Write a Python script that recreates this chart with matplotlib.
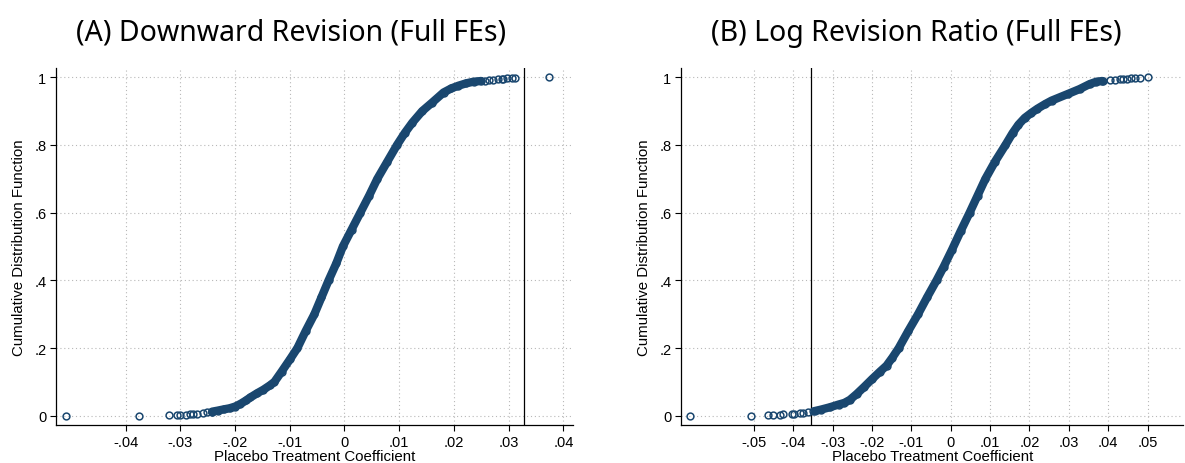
import matplotlib.pyplot as plt

# (A) Downward Revision: sparse placebo coefficients (tails) and their CDF
ring_a_x = [-0.0508, -0.0375, -0.0321, -0.0306, -0.0300, -0.0290, -0.0283, -0.0276,
            -0.0270, -0.0259, -0.0251, -0.0242,
            0.0257, 0.0264, 0.0272, 0.0280, 0.0287, 0.0290, 0.0297, 0.0306, 0.0312, 0.03745]
ring_a_y = [0.000, 0.000, 0.001, 0.002, 0.002, 0.003, 0.004, 0.005,
            0.006, 0.008, 0.010, 0.012,
            0.990, 0.991, 0.993, 0.994, 0.995, 0.996, 0.997, 0.998, 0.999, 1.000]
# dense part of the distribution
band_a_x = [-0.0242, -0.0232, -0.0220, -0.0210, -0.0200, -0.0190, -0.0180, -0.0172,
            -0.0160, -0.0148, -0.0136, -0.0128, -0.0115, -0.0099, -0.0086, -0.0071,
            -0.0055, -0.0042, -0.0029, -0.0015, -0.0003, 0.0013, 0.0029, 0.0045,
            0.0060, 0.0078, 0.0096, 0.0110, 0.0124, 0.0142, 0.0160, 0.0181,
            0.0195, 0.0208, 0.0222, 0.0236, 0.0250]
band_a_y = [0.012, 0.015, 0.019, 0.022, 0.027, 0.035, 0.045, 0.054,
            0.066, 0.077, 0.090, 0.100, 0.130, 0.168, 0.200, 0.250,
            0.300, 0.350, 0.400, 0.450, 0.500, 0.550, 0.600, 0.650,
            0.700, 0.750, 0.800, 0.835, 0.866, 0.900, 0.925, 0.955,
            0.967, 0.975, 0.982, 0.987, 0.989]
actual_a = 0.0328

# (B) Log Revision Ratio
ring_b_x = [-0.0662, -0.0508, -0.0464, -0.0452, -0.0434, -0.0426, -0.0404, -0.0398,
            -0.0383, -0.0374, -0.0362, -0.0349,
            0.0387, 0.0404, 0.0416, 0.0429, 0.0437, 0.0447, 0.0459, 0.0467, 0.0480, 0.0501]
ring_b_y = [0.000, 0.000, 0.001, 0.002, 0.003, 0.004, 0.005, 0.006,
            0.008, 0.009, 0.011, 0.013,
            0.989, 0.991, 0.992, 0.994, 0.995, 0.996, 0.997, 0.998, 0.999, 1.000]
band_b_x = [-0.0345, -0.0330, -0.0307, -0.0285, -0.0270, -0.0256, -0.0239, -0.0220,
            -0.0200, -0.0180, -0.0163, -0.0148, -0.0132, -0.0108, -0.0083, -0.0060,
            -0.0036, -0.0018, 0.0003, 0.0025, 0.0048, 0.0068, 0.0088, 0.0112,
            0.0139, 0.0157, 0.0172, 0.0188, 0.0205, 0.0220, 0.0240, 0.0256,
            0.0298, 0.0327, 0.0353, 0.0370, 0.0385]
band_b_y = [0.014, 0.018, 0.025, 0.033, 0.038, 0.047, 0.064, 0.085,
            0.108, 0.130, 0.148, 0.172, 0.200, 0.250, 0.300, 0.350,
            0.400, 0.440, 0.490, 0.545, 0.600, 0.650, 0.700, 0.750,
            0.800, 0.835, 0.860, 0.880, 0.895, 0.907, 0.921, 0.931,
            0.951, 0.965, 0.980, 0.987, 0.989]
actual_b = -0.0356

ticks_a = [-0.04, -0.03, -0.02, -0.01, 0, 0.01, 0.02, 0.03, 0.04]
ticks_b = [-0.05, -0.04, -0.03, -0.02, -0.01, 0, 0.01, 0.02, 0.03, 0.04, 0.05]
yticks = [0, 0.2, 0.4, 0.6, 0.8, 1]
ylabels = ["0", ".2", ".4", ".6", ".8", "1"]

navy = "#1a476f"
plt.rcParams["font.family"] = ["Liberation Sans", "DejaVu Sans"]

fig = plt.figure(figsize=(11.85, 4.64), dpi=100)
ax1 = fig.add_axes([0.0473, 0.0819, 0.4360, 0.7694])
ax2 = fig.add_axes([0.5747, 0.0819, 0.4240, 0.7694])


def stata_label(v):
    s = "%g" % round(v, 3)
    return s.replace("0.", ".")


panels = [
    (ax1, ring_a_x, ring_a_y, band_a_x, band_a_y, actual_a, ticks_a, (-0.0527, 0.0417)),
    (ax2, ring_b_x, ring_b_y, band_b_x, band_b_y, actual_b, ticks_b, (-0.0685, 0.0591)),
]
for ax, rx, ry, bx, by, actual, xt, xl in panels:
    ax.plot(bx, by, color=navy, lw=6.0, solid_capstyle="round", solid_joinstyle="round", zorder=3)
    ax.plot(bx + rx, by + ry, ls="none", marker="o", ms=4.9, mfc="none", mec=navy, mew=1.1, zorder=4)
    ax.axvline(actual, color="black", lw=0.9, zorder=2)
    ax.set_xlim(*xl)
    ax.set_ylim(-0.0274, 1.0274)
    ax.set_xticks(xt)
    ax.set_xticklabels([stata_label(v) for v in xt])
    ax.set_yticks(yticks)
    ax.set_yticklabels(ylabels)
    ax.grid(True, color="#b8b8b8", lw=0.8, ls=(0, (1, 2.5)))
    ax.set_axisbelow(True)
    for s in ["top", "right"]:
        ax.spines[s].set_visible(False)
    for s in ["left", "bottom"]:
        ax.spines[s].set_linewidth(0.9)
    ax.tick_params(direction="out", length=4, width=0.8, labelsize=10.5, pad=3)
    ax.set_xlabel("Placebo Treatment Coefficient", fontsize=10.8, labelpad=0)
    ax.set_ylabel("Cumulative Distribution Function", fontsize=10.8, labelpad=6)

fig.text(291 / 1185, 1 - 33 / 464, "(A) Downward Revision (Full FEs)",
         ha="center", va="center", fontsize=20.5, family=["Noto Sans", "DejaVu Sans"])
fig.text(916 / 1185, 1 - 33 / 464, "(B) Log Revision Ratio (Full FEs)",
         ha="center", va="center", fontsize=20.5, family=["Noto Sans", "DejaVu Sans"])

fig.savefig("out.png", dpi=100, facecolor="white")
